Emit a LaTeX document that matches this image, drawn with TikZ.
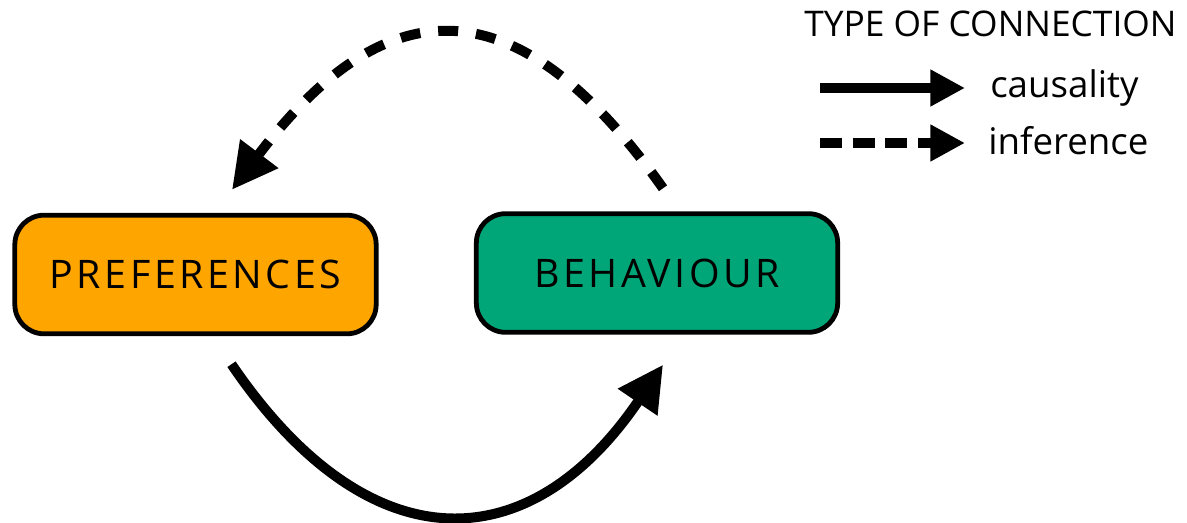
\documentclass[tikz,border=0pt]{standalone}
\usepackage{fontspec}
\setmainfont{Open Sans}
\usetikzlibrary{arrows.meta,calc}
\definecolor{prefcol}{RGB}{255,165,0}
\definecolor{behcol}{RGB}{0,166,120}
\begin{document}
\begin{tikzpicture}[x=0.75pt,y=-0.75pt,
  box/.style={draw=black,line width=3.6pt,rounded corners=22pt,minimum width=271pt,minimum height=89pt,inner sep=0pt,
    font=\fontsize{29.5}{34}\selectfont\addfontfeatures{LetterSpace=9}},
  lbl/.style={inner sep=0pt,anchor=base west,font=\fontsize{27.5}{32}\selectfont},
  conn/.style={line width=7.5pt,-{Triangle[length=34pt,width=34pt]}},
  legconn/.style={line width=7.5pt,-{Triangle[length=26pt,width=26pt]}},
  dashcurve/.style={dash pattern=on 15pt off 13.5pt},
  dashleg/.style={dash pattern=on 16.5pt off 8pt}]
\useasboundingbox (0,0) rectangle (1187,523);
\node[box,fill=prefcol] (pref) at (195.5,274.5) {PREFERENCES};
\node[box,fill=behcol] (beh) at (657,273) {BEHAVIOUR};
% causality curve
\coordinate (cs) at ($(pref.south)+(36,28)$);
\coordinate (ce) at ($(beh.south)+(6,30)$);
\draw[conn] (cs) .. controls ($(cs)+(135,199)$) and ($(ce)+(-135,199)$) .. (ce);
% inference curve
\coordinate (is) at ($(beh.north)+(6,-23)$);
\coordinate (ie) at ($(pref.north)+(36.5,-23)$);
\draw[conn,dashcurve] (is) .. controls ($(is)+(-145,-205)$) and ($(ie)+(155,-205)$) .. (ie);
% legend
\node[lbl,font=\fontsize{26.5}{30}\selectfont] (title) at (804,37) {TYPE OF CONNECTION};
\node[lbl] (caus) at (990,98) {causality};
\node[lbl] (inf) at (988,155) {inference};
\coordinate (l1s) at (820,88);
\coordinate (l1e) at (965,88);
\coordinate (l2s) at (820,143);
\coordinate (l2e) at (965,143);
\draw[legconn] (l1s) -- (l1e);
\draw[legconn,dashleg] (l2s) -- (l2e);
\end{tikzpicture}
\end{document}
